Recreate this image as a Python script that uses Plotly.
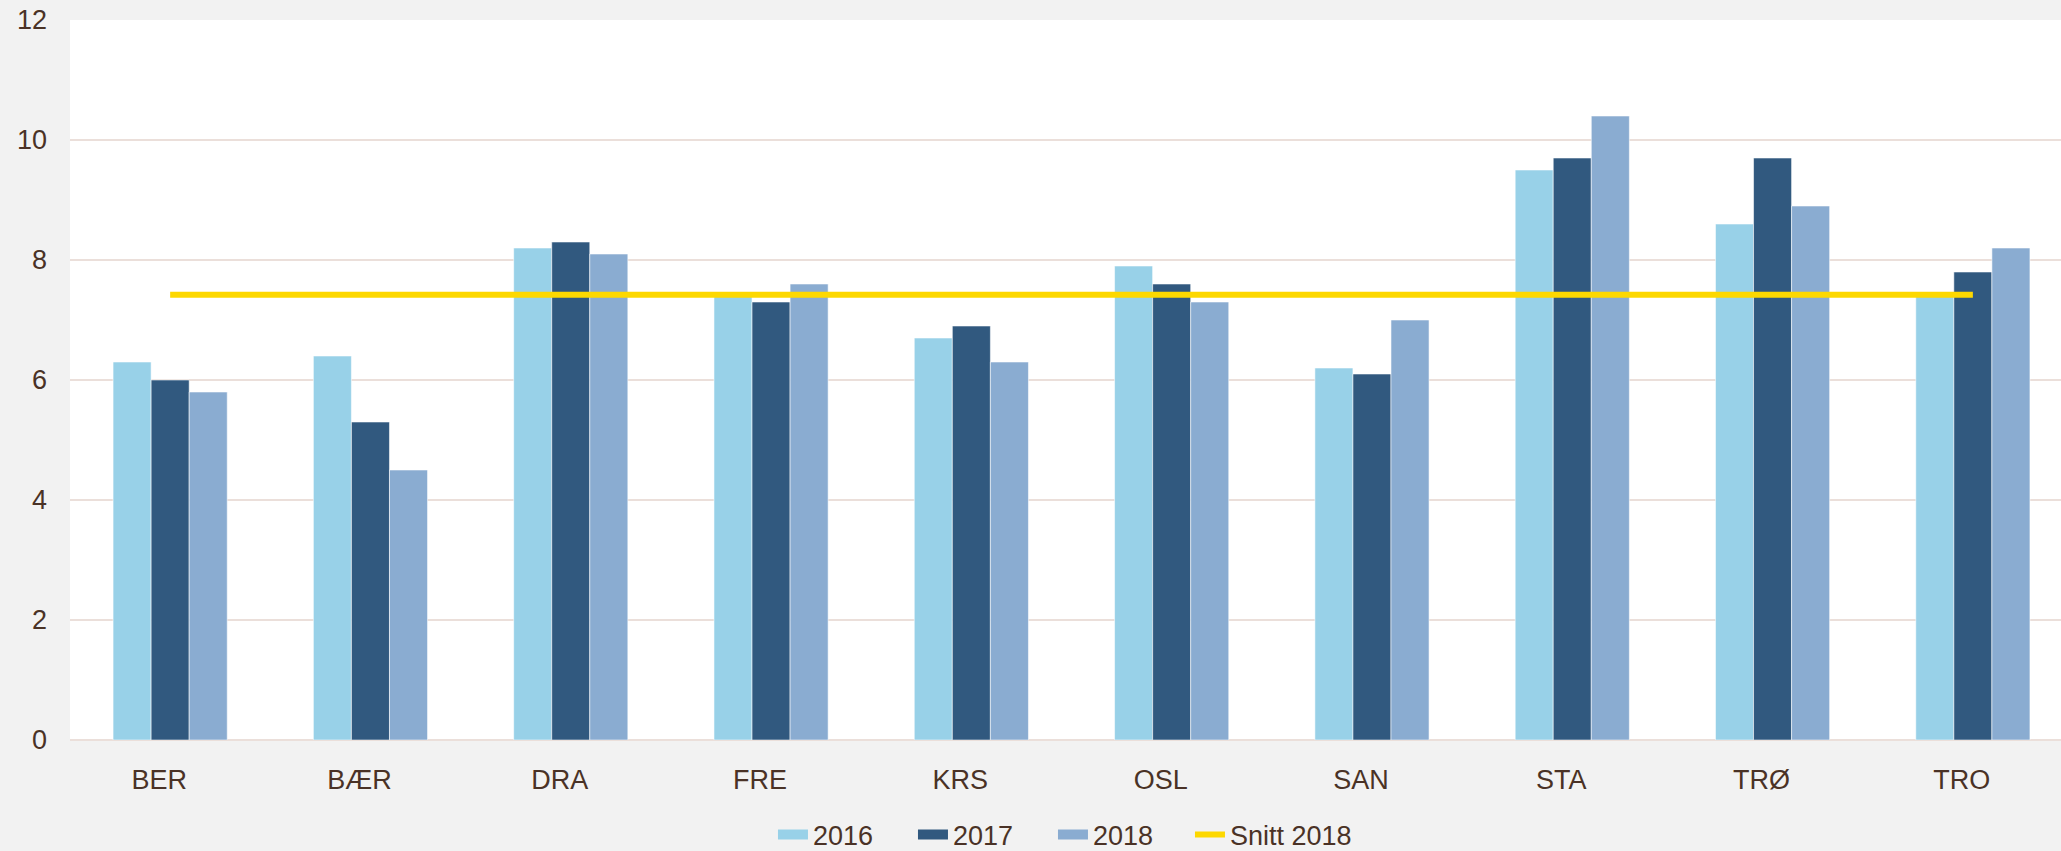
import plotly.graph_objects as go

categories = ["BER", "BÆR", "DRA", "FRE", "KRS", "OSL", "SAN", "STA", "TRØ", "TRO"]
v2016 = [6.3, 6.4, 8.2, 7.4, 6.7, 7.9, 6.2, 9.5, 8.6, 7.4]
v2017 = [6.0, 5.3, 8.3, 7.3, 6.9, 7.6, 6.1, 9.7, 9.7, 7.8]
v2018 = [5.8, 4.5, 8.1, 7.6, 6.3, 7.3, 7.0, 10.4, 8.9, 8.2]
snitt2018 = [7.42, 7.42, 7.42, 7.42, 7.42, 7.42, 7.42, 7.42, 7.42, 7.42]
y_ticks = [0, 2, 4, 6, 8, 10, 12]

c2016 = "#98D1E8"
c2017 = "#31597F"
c2018 = "#8AACD1"
cline = "#FDD800"
txt = "#4A3226"
grid = "#EBDFDA"
font_family = "Liberation Sans, Arial, sans-serif"

fig = go.Figure()
for name, vals, col in [("2016", v2016, c2016), ("2017", v2017, c2017), ("2018", v2018, c2018)]:
    fig.add_trace(go.Bar(x=categories, y=vals, name=name, marker_color=col,
                         marker_line=dict(width=1, color="rgba(255,255,255,0.55)"),
                         showlegend=False, legendgroup=name))

fig.add_trace(go.Scatter(x=categories, y=snitt2018, mode="lines", name="Snitt 2018",
                         line=dict(color=cline, width=6), showlegend=False,
                         legendgroup="Snitt 2018"))

# legend entries (wide swatches like the original)
for name, col, w, lw in [("2016", c2016, 14, 95), ("2017", c2017, 14, 95),
                         ("2018", c2018, 14, 92), ("Snitt 2018", cline, 6, 135)]:
    fig.add_trace(go.Scatter(x=[None], y=[None], mode="lines", name=name,
                             line=dict(color=col, width=w), legendgroup=name,
                             legendwidth=lw, showlegend=True))

fig.update_layout(
    width=2061, height=851,
    paper_bgcolor="#F2F2F2", plot_bgcolor="#FFFFFF",
    margin=dict(l=70, r=0, t=20, b=111, autoexpand=False),
    barmode="group", bargap=0.43, bargroupgap=0,
    font=dict(family=font_family, color=txt, size=27),
    legend=dict(orientation="h", x=0.503, xanchor="center", y=-0.132, yanchor="middle",
                font=dict(family=font_family, size=27, color=txt),
                itemwidth=30,
                bgcolor="rgba(0,0,0,0)", traceorder="normal",
                itemclick=False, itemdoubleclick=False),
)
fig.update_xaxes(range=[-0.5, 9.44], showgrid=False, showline=False, ticks="",
                 ticklabelstandoff=21, ticklabelshift=-11, tickfont=dict(size=27, color=txt))
fig.update_yaxes(range=[0, 12], tickvals=y_ticks, showgrid=True, gridcolor=grid, gridwidth=2,
                 zeroline=True, zerolinecolor=grid, zerolinewidth=2, showline=False,
                 ticks="", ticklabelstandoff=22, tickfont=dict(size=27, color=txt))

fig.write_html("out.html", config={"displayModeBar": False},
               post_script="document.body.style.margin='0';document.body.style.background='#F2F2F2';")
